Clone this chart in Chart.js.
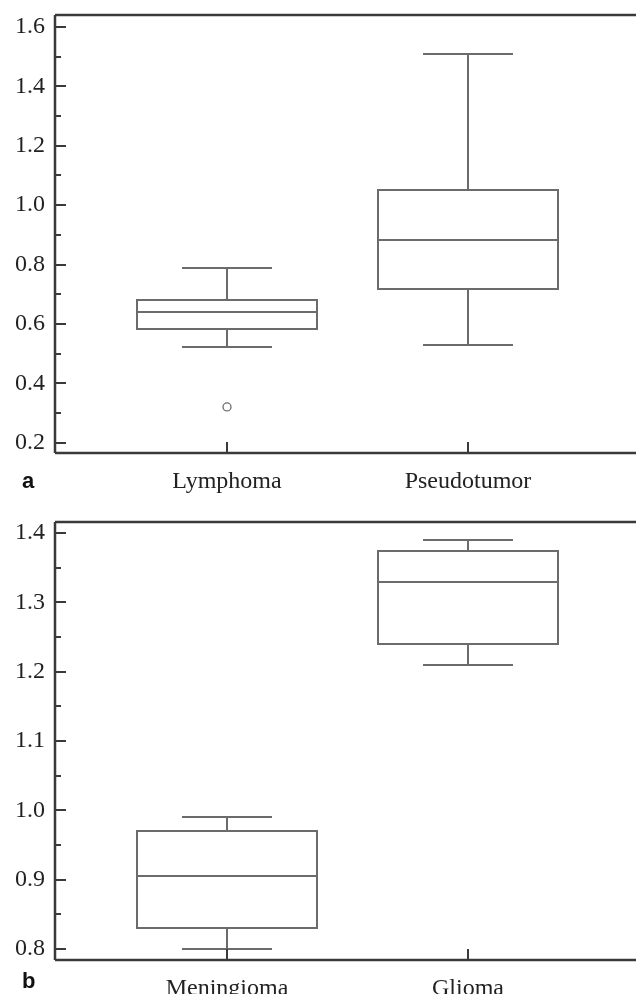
<!DOCTYPE html>
<html>
<head>
<meta charset="utf-8">
<script src="https://cdn.jsdelivr.net/npm/chart.js@4.4.0/dist/chart.umd.min.js"></script>
<style>
  body { margin: 0; background: #fff; }
  canvas { display: block; }
</style>
</head>
<body>
<canvas id="chartA" width="636" height="497"></canvas>
<canvas id="chartB" width="636" height="497"></canvas>
<script>
// panel a
const catsA = ['Lymphoma', 'Pseudotumor'];
const lowA = [0.523, 0.530];
const q1A = [0.584, 0.719];
const medA = [0.641, 0.883];
const q3A = [0.681, 1.052];
const highA = [0.789, 1.510];
const outliersA = [{ x: 1, y: 0.321 }];
const majorA = [0.2, 0.4, 0.6, 0.8, 1.0, 1.2, 1.4, 1.6];
const minorA = [0.3, 0.5, 0.7, 0.9, 1.1, 1.3, 1.5];

// panel b
const catsB = ['Meningioma', 'Glioma'];
const lowB = [0.800, 1.210];
const q1B = [0.830, 1.240];
const medB = [0.905, 1.329];
const q3B = [0.970, 1.374];
const highB = [0.990, 1.390];
const outliersB = [];
const majorB = [0.8, 0.9, 1.0, 1.1, 1.2, 1.3, 1.4];
const minorB = [0.85, 0.95, 1.05, 1.15, 1.25, 1.35];

const axisColor = '#3a3a3a';
const boxColor = '#6b6b6b';
const serif = '"Liberation Serif", "Times New Roman", serif';

// box, whiskers, axes and inward ticks drawn through the chart scales
const boxPlugin = {
  id: 'boxPlugin',
  afterDatasetsDraw(chart, args, o) {
    const ctx = chart.ctx;
    const xs = chart.scales.x, ys = chart.scales.y;
    const a = chart.chartArea;
    const px = v => Math.round(xs.getPixelForValue(v));
    const py = v => Math.round(ys.getPixelForValue(v));
    ctx.save();
    ctx.strokeStyle = boxColor;
    ctx.lineWidth = 2;
    o.cats.forEach((c, i) => {
      const x = i + 1;
      const l = px(x - 0.374), r = px(x + 0.374);
      const cl = px(x - 0.187), cr = px(x + 0.187);
      const cx = px(x);
      ctx.beginPath();
      ctx.rect(l, py(o.q3[i]), r - l, py(o.q1[i]) - py(o.q3[i]));
      ctx.moveTo(l, py(o.med[i])); ctx.lineTo(r, py(o.med[i]));
      ctx.moveTo(cx, py(o.q3[i])); ctx.lineTo(cx, py(o.high[i]));
      ctx.moveTo(cx, py(o.q1[i])); ctx.lineTo(cx, py(o.low[i]));
      ctx.moveTo(cl, py(o.high[i])); ctx.lineTo(cr, py(o.high[i]));
      ctx.moveTo(cl, py(o.low[i])); ctx.lineTo(cr, py(o.low[i]));
      ctx.stroke();
    });
    // axes frame
    ctx.strokeStyle = axisColor;
    ctx.lineWidth = 2.5;
    ctx.beginPath();
    ctx.moveTo(a.left, a.top); ctx.lineTo(a.right, a.top);
    ctx.moveTo(a.left, a.top); ctx.lineTo(a.left, a.bottom);
    ctx.moveTo(a.left, a.bottom); ctx.lineTo(a.right, a.bottom);
    ctx.stroke();
    ctx.lineWidth = 2;
    ctx.beginPath();
    o.major.forEach(v => { ctx.moveTo(a.left, py(v)); ctx.lineTo(a.left + 11, py(v)); });
    o.minor.forEach(v => { ctx.moveTo(a.left, py(v)); ctx.lineTo(a.left + 6, py(v)); });
    o.cats.forEach((c, i) => { ctx.moveTo(px(i + 1), a.bottom); ctx.lineTo(px(i + 1), a.bottom - 11); });
    ctx.stroke();
    // panel letter
    ctx.fillStyle = '#111';
    ctx.font = 'bold 22px "Liberation Sans", Arial, sans-serif';
    ctx.textBaseline = 'alphabetic';
    ctx.fillText(o.letter, 22, o.letterY);
    ctx.restore();
  }
};

function makeChart(id, cats, low, q1, med, q3, high, outliers, major, minor, yMin, yMax, padTop, xHeight, letter, letterY) {
  return new Chart(document.getElementById(id), {
    type: 'scatter',
    data: {
      datasets: [{
        data: outliers,
        pointStyle: 'circle',
        pointRadius: 4,
        pointBorderWidth: 1.3,
        pointBackgroundColor: '#fff',
        pointBorderColor: boxColor
      }]
    },
    options: {
      responsive: false,
      animation: false,
      layout: { autoPadding: false, padding: { top: padTop, right: 0, left: 0, bottom: 0 } },
      plugins: {
        legend: { display: false },
        tooltip: { enabled: false },
        boxPlugin: { cats, low, q1, med, q3, high, major, minor, letter, letterY }
      },
      scales: {
        x: {
          type: 'linear',
          min: 0.2863,
          max: 2.697,
          grid: { display: false, drawTicks: false },
          border: { display: false },
          afterBuildTicks: s => { s.ticks = cats.map((c, i) => ({ value: i + 1 })); },
          afterFit: s => { s.height = xHeight; s.paddingLeft = 0; s.paddingRight = 0; },
          ticks: {
            padding: 14,
            color: '#222',
            font: { family: serif, size: 24 },
            callback: v => cats[Math.round(v) - 1]
          }
        },
        y: {
          min: yMin,
          max: yMax,
          grid: { display: false, drawTicks: false },
          border: { display: false },
          afterBuildTicks: s => { s.ticks = major.map(v => ({ value: v })); },
          afterFit: s => { s.width = 55; s.paddingTop = 0; s.paddingBottom = 0; },
          ticks: {
            padding: 10,
            color: '#222',
            font: { family: serif, size: 24 },
            callback: v => v.toFixed(1)
          }
        }
      }
    },
    plugins: [boxPlugin]
  });
}

makeChart('chartA', catsA, lowA, q1A, medA, q3A, highA, outliersA, majorA, minorA, 0.166, 1.640, 15, 44, 'a', 488);
makeChart('chartB', catsB, lowB, q1B, medB, q3B, highB, outliersB, majorB, minorB, 0.784, 1.416, 25, 34, 'b', 491);
</script>
</body>
</html>
